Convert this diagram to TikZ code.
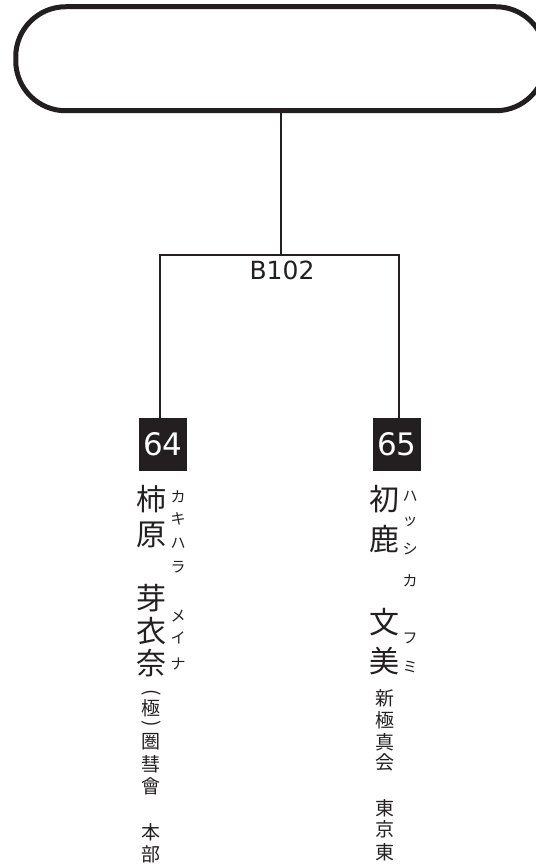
\documentclass[tikz,border=0pt]{standalone}
\usepackage{fontspec}
\newfontfamily\jpfont{Noto Sans CJK JP}
\newfontfamily\numfont{DejaVu Sans}
\usetikzlibrary{positioning}
\definecolor{ink}{RGB}{35,31,32}
% vertical bracket made from a turned parenthesis
\newcommand{\vbrak}[1]{\rotatebox{-90}{#1}}

\begin{document}
\begin{tikzpicture}[x=1pt, y=-1pt,
    every node/.style={inner sep=0pt},
    tree/.style={draw=ink, line width=1.8pt},
    numbox/.style={fill=ink, text=white, minimum width=48pt, minimum height=53pt,
                   font=\numfont\fontsize{31}{31}\selectfont},
    namech/.style={text=ink, font=\jpfont\fontsize{30}{30}\selectfont},
    kanach/.style={text=ink, font=\jpfont\fontsize{15}{15}\selectfont},
    clubch/.style={text=ink, font=\jpfont\fontsize{19}{19}\selectfont}]
  \useasboundingbox (0,0) rectangle (535,866);
  % header frame, cut by the right edge
  \node (head) [draw=ink, line width=5pt, rounded corners=50pt,
                minimum width=530pt, minimum height=104pt] at (280.75,58.75) {};
  \node (room) [text=ink, font=\numfont\fontsize{25}{25}\selectfont] at (282,270.5) {B102};
  \node (n64) [numbox] at (163,444.5) {64};
  \node (n65) [numbox] at (397,444.5) {65};
  \coordinate (j64) at (160,255);
  \coordinate (j65) at (399,255);
  \draw[tree] (head.south) -- (head.south |- j64);
  \draw[tree] (n64.north -| j64) -- (j64) -- (j65) -- (n65.north -| j65);
  % player 64
  \foreach \ch/\y [count=\i] in {柿/499,原/535,芽/598,衣/631,奈/663}
    \node (name64-\i) [namech] at (151,\y) {\ch};
  \foreach \ch/\y [count=\i] in {カ/497,キ/519,ハ/543,ラ/567,メ/616,イ/638,ナ/664}
    \node (kana64-\i) [kanach] at (178,\y) {\ch};
  \node (open64) [clubch] at (151,693) {\vbrak{(}};
  \node (close64) [clubch] at (151,724) {\vbrak{)}};
  \foreach \ch/\y [count=\i] in {極/708,圏/742,彗/764,會/786,本/832,部/854}
    \node (club64-\i) [clubch] at (151,\y) {\ch};
  % player 65
  \foreach \ch/\y [count=\i] in {初/499,鹿/539,文/622,美/661}
    \node (name65-\i) [namech] at (384.5,\y) {\ch};
  \foreach \ch/\y [count=\i] in {ハ/496,ッ/522,シ/549,カ/581,フ/638,ミ/667}
    \node (kana65-\i) [kanach] at (410,\y) {\ch};
  \foreach \ch/\y [count=\i] in {新/698,極/720,真/742,会/762,東/808,京/829,東/852}
    \node (club65-\i) [clubch] at (385,\y) {\ch};
\end{tikzpicture}
\end{document}
